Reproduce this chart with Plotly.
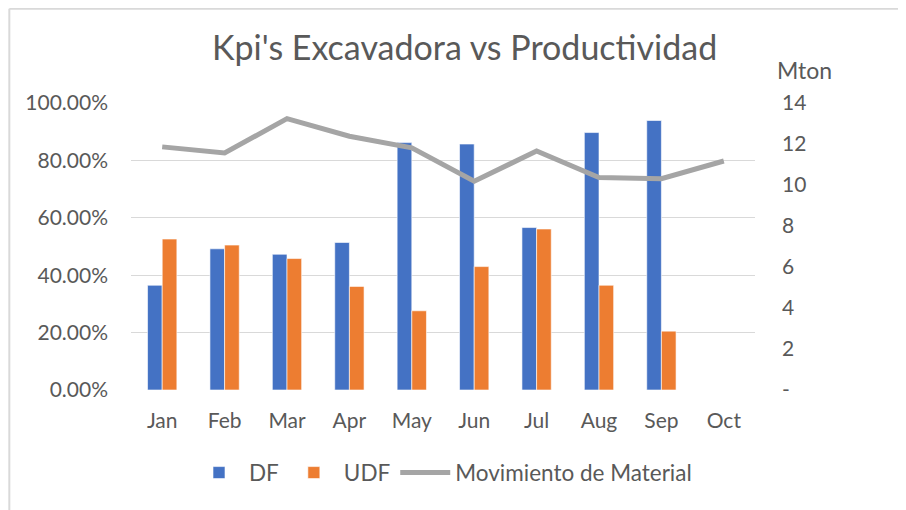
import plotly.graph_objects as go

months = ["Jan", "Feb", "Mar", "Apr", "May", "Jun", "Jul", "Aug", "Sep", "Oct"]
df_vals = [0.365, 0.492, 0.473, 0.514, 0.862, 0.857, 0.566, 0.897, 0.939, None]
udf_vals = [0.526, 0.505, 0.458, 0.361, 0.276, 0.430, 0.561, 0.365, 0.205, None]
mov_vals = [11.86, 11.56, 13.24, 12.38, 11.81, 10.18, 11.66, 10.36, 10.31, 11.17]
left_ticks = [0, 0.2, 0.4, 0.6, 0.8, 1.0]
left_labels = ["0.00%", "20.00%", "40.00%", "60.00%", "80.00%", "100.00%"]
right_ticks = [0, 2, 4, 6, 8, 10, 12, 14]
right_labels = ["-", "2", "4", "6", "8", "10", "12", "14"]

FONT = "Lato"
TXT = "#595959"

fig = go.Figure()
fig.add_trace(go.Bar(x=months, y=df_vals, name="DF",
                     marker=dict(color="#4472C4", line=dict(color="#FFFFFF", width=0.6))))
fig.add_trace(go.Bar(x=months, y=udf_vals, name="UDF",
                     marker=dict(color="#ED7D31", line=dict(color="#FFFFFF", width=0.6))))
fig.add_trace(go.Scatter(x=months, y=mov_vals, name="Movimiento de Material", yaxis="y2",
                         mode="lines", line=dict(color="#A5A5A5", width=5)))

fig.update_layout(
    width=906, height=510,
    margin=dict(l=123, r=159, t=95, b=128, autoexpand=False),
    paper_bgcolor="white", plot_bgcolor="white",
    font=dict(family=FONT, color=TXT, size=21),
    barmode="group", bargap=0.53, bargroupgap=0,
    title=dict(text="Kpi's Excavadora vs Productividad", x=0.504, xanchor="center",
               y=0.9216, yanchor="middle", font=dict(size=34, color=TXT, family=FONT)),
    xaxis=dict(showgrid=False, showline=False, ticks="", tickfont=dict(size=21),
               ticklabelstandoff=16, automargin=False),
    yaxis=dict(range=[0, 1.0], tickvals=left_ticks, ticktext=left_labels,
               showgrid=True, gridcolor="#D9D9D9", gridwidth=1, zeroline=False,
               showline=False, ticks="", ticklabelstandoff=22, tickfont=dict(size=21),
               automargin=False),
    yaxis2=dict(range=[0, 14], tickvals=right_ticks, ticktext=right_labels,
                overlaying="y", side="right", showgrid=False, zeroline=False,
                showline=False, ticks="", ticklabelstandoff=26, tickfont=dict(size=21),
                automargin=False),
    legend=dict(orientation="h", x=0.5, xanchor="center", y=-0.289, yanchor="middle",
                font=dict(size=22.5), itemwidth=50, traceorder="normal"),
    annotations=[dict(text="Mton", xref="paper", yref="paper", x=1.032, y=1.114,
                      xanchor="left", yanchor="middle", showarrow=False,
                      font=dict(size=23, color=TXT, family=FONT))],
    shapes=[
        dict(type="line", xref="paper", yref="paper", x0=-0.195, x1=1.233, y0=1.328, y1=1.328,
             line=dict(color="#D9D9D9", width=2)),
        dict(type="line", xref="paper", yref="paper", x0=-0.195, x1=-0.195, y0=1.328, y1=-0.42,
             line=dict(color="#D9D9D9", width=2)),
    ],
)

fig.write_html("out.html")
